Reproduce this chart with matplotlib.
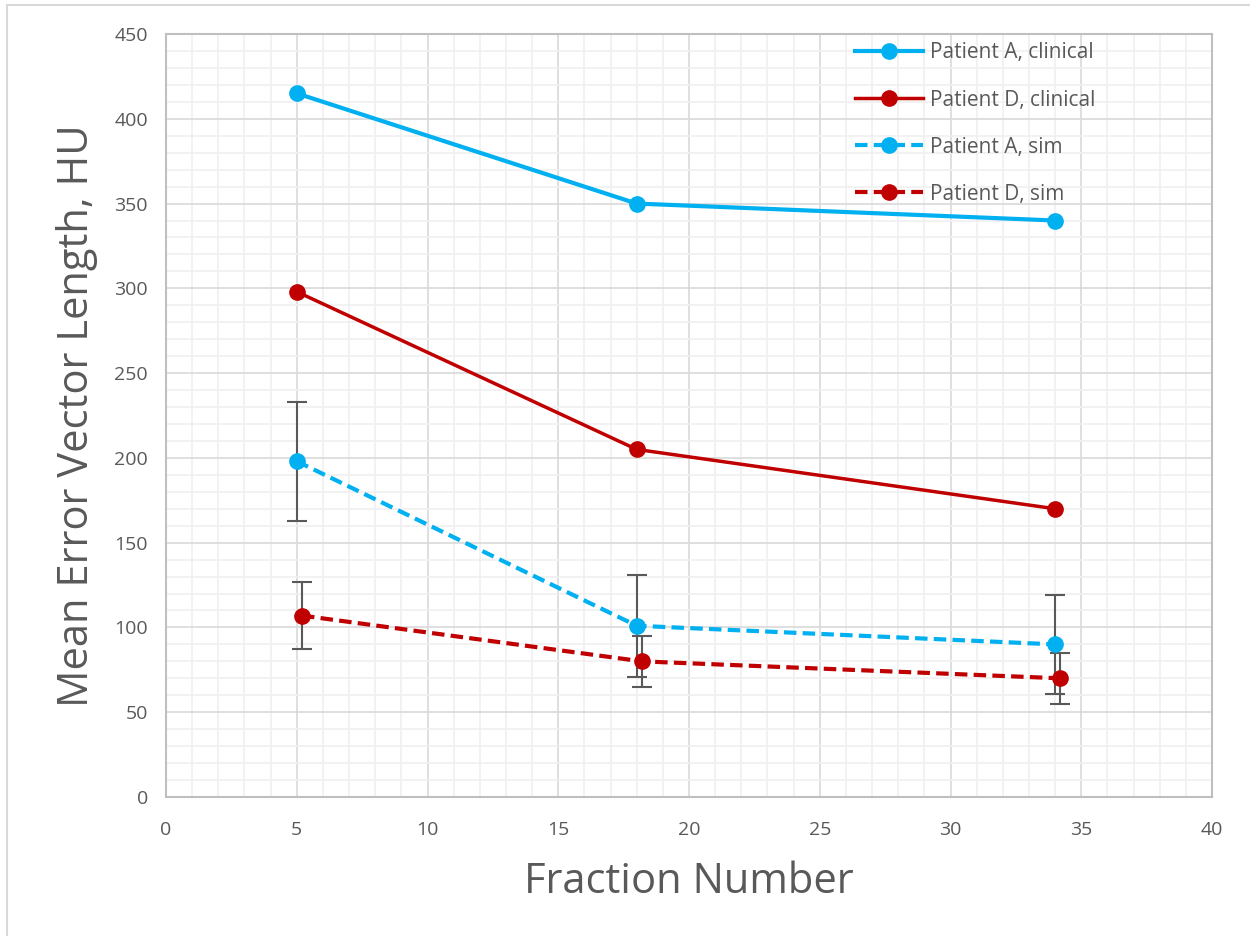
import matplotlib
matplotlib.use("Agg")
import matplotlib.pyplot as plt
from matplotlib.lines import Line2D
from matplotlib.ticker import MultipleLocator

# Fraction numbers and mean error vector lengths (HU)
frac_clin = [5, 18, 34]
a_clin = [415, 350, 340]
d_clin = [298, 205, 170]

frac_a_sim = [5, 18, 34]
a_sim = [198, 101, 90]
a_sim_err = [35, 30, 29]

frac_d_sim = [5.2, 18.2, 34.2]
d_sim = [107, 80, 70]
d_sim_err = [20, 15, 15]

series_labels = ["Patient A, clinical", "Patient D, clinical",
                 "Patient A, sim", "Patient D, sim"]

BLUE = "#00B0F0"
RED = "#C00000"
TEXT = "#595959"
FONT = "Open Sans"

plt.rcParams["font.family"] = [FONT, "DejaVu Sans"]

fig = plt.figure(figsize=(12.5, 9.36), dpi=100)
ax = fig.add_axes([166 / 1250, 1 - 797 / 936, (1212 - 166) / 1250, (797 - 34) / 936])

# Chart border
fig.add_artist(Line2D([7 / 1250, 7 / 1250], [0, 1 - 5 / 936], color="#d9d9d9", lw=1.5,
                      transform=fig.transFigure))
fig.add_artist(Line2D([7 / 1250, 1], [1 - 5 / 936, 1 - 5 / 936], color="#d9d9d9", lw=1.5,
                      transform=fig.transFigure))

ax.set_xlim(0, 40)
ax.set_ylim(0, 450)
ax.xaxis.set_major_locator(MultipleLocator(5))
ax.xaxis.set_minor_locator(MultipleLocator(1))
ax.yaxis.set_major_locator(MultipleLocator(50))
ax.yaxis.set_minor_locator(MultipleLocator(10))
ax.grid(which="minor", color="#f0f0f0", lw=1.2, zorder=0)
ax.grid(which="major", color="#d9d9d9", lw=1.2, zorder=0)
ax.set_axisbelow(True)
for s in ax.spines.values():
    s.set_color("#bfbfbf")
    s.set_linewidth(1.5)
ax.tick_params(which="both", length=0, labelsize=14, labelcolor=TEXT)
ax.tick_params(axis="x", pad=17)
ax.tick_params(axis="y", pad=13)

ax.plot(frac_clin, a_clin, color=BLUE, lw=3, marker="o", ms=11, label=series_labels[0], zorder=3)
ax.plot(frac_clin, d_clin, color=RED, lw=2.5, marker="o", ms=11, label=series_labels[1], zorder=3)
ax.errorbar(frac_a_sim, a_sim, yerr=a_sim_err, color=BLUE, lw=3, ls=(0, (3, 1.5)), marker="o", ms=11,
            ecolor="#595959", elinewidth=1.5, capsize=7, capthick=1.5, label=series_labels[2], zorder=3)
ax.errorbar(frac_d_sim, d_sim, yerr=d_sim_err, color=RED, lw=3, ls=(0, (3, 1.5)), marker="o", ms=11,
            ecolor="#595959", elinewidth=1.5, capsize=7, capthick=1.5, label=series_labels[3], zorder=3)

handles = [
    Line2D([], [], color=BLUE, lw=3, marker="o", ms=11),
    Line2D([], [], color=RED, lw=2.5, marker="o", ms=11),
    Line2D([], [], color=BLUE, lw=3, ls=(0, (3, 1.5)), marker="o", ms=11),
    Line2D([], [], color=RED, lw=3, ls=(0, (3, 1.5)), marker="o", ms=11),
]
leg = ax.legend(handles, series_labels, loc="upper left", bbox_to_anchor=(0.645, 1.008),
                frameon=False, fontsize=15, labelcolor=TEXT, handlelength=3.25,
                handletextpad=0.35, labelspacing=1.25, borderaxespad=0.3)

ax.set_xlabel("Fraction Number", fontsize=30, color=TEXT, labelpad=16)
ax.set_ylabel("Mean Error Vector Length, HU", fontsize=30, color=TEXT, labelpad=12)

fig.savefig("out.png", dpi=100, facecolor="white")
